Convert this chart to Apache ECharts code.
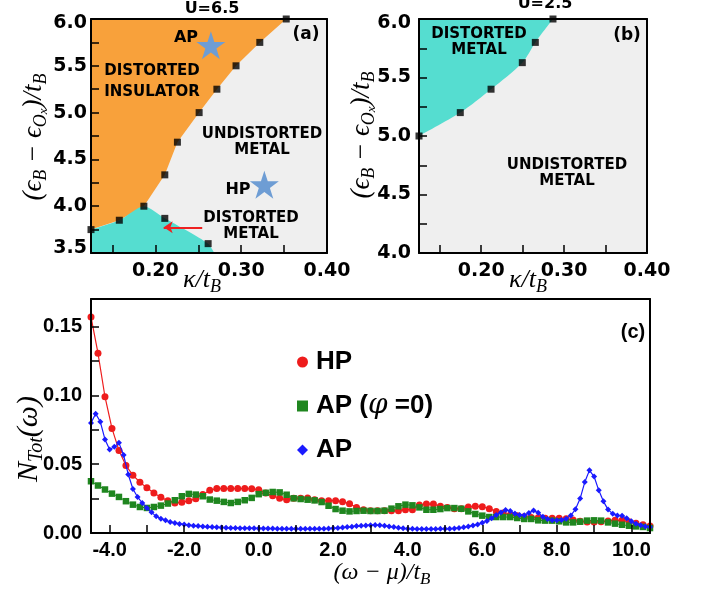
<!DOCTYPE html>
<html><head><meta charset="utf-8">
<script src="https://cdn.jsdelivr.net/npm/echarts@6/dist/echarts.min.js"></script>
<style>html,body{margin:0;padding:0;background:#fff}#c{width:704px;height:592px}</style>
</head><body><div id="c"></div>
<script>
// ---------- Panel (a): U = 6.5 ----------
const aInsulatorKappa = [0.125,0.158,0.1866,0.211,0.2257,0.251,0.2717,0.294,0.3217,0.3525];
const aInsulatorE     = [3.75,3.85,4.0,4.335,4.684,5.0,5.25,5.5,5.75,6.0];
const aMetalKappa = [0.125,0.158,0.1866,0.211,0.2615,0.2686];
const aMetalE     = [3.75,3.85,4.0,3.87,3.6,3.5];
const aPointKappa = [0.125,0.158,0.1866,0.211,0.211,0.2257,0.251,0.2717,0.294,0.3217,0.3525,0.2615];
const aPointE     = [3.75,3.85,4.0,3.87,4.335,4.684,5.0,5.25,5.5,5.75,6.0,3.6];
const starNames = ['AP','HP'];
const starKappa = [0.2647,0.327];
const starE     = [5.72,4.23];
const arrowKappa = [0.2546,0.2097];
const arrowE     = [3.775,3.775];
// ---------- Panel (b): U = 2.5 ----------
const bKappa = [0.125,0.1748,0.2119,0.2496,0.2653,0.2866];
const bE     = [5.0,5.2,5.4,5.627,5.8,6.0];
// ---------- Panel (c): total DOS ----------
const omegaCoarse = [-4.5,-4.3125,-4.125,-3.9375,-3.75,-3.5625,-3.375,-3.1875,-3.0,-2.8125,-2.625,-2.4375,-2.25,-2.0625,-1.875,-1.6875,-1.5,-1.3125,-1.125,-0.9375,-0.75,-0.5625,-0.375,-0.1875,
 0,0.1875,0.375,0.5625,0.75,0.9375,1.125,1.3125,1.5,1.6875,1.875,2.0625,2.25,2.4375,2.625,2.8125,3.0,3.1875,3.375,3.5625,3.75,3.9375,4.125,4.3125,4.5,4.6875,4.875,5.0625,5.25,5.4375,5.625,5.8125,
 6.0,6.1875,6.375,6.5625,6.75,6.9375,7.125,7.3125,7.5,7.6875,7.875,8.0625,8.25,8.4375,8.625,8.8125,9.0,9.1875,9.375,9.5625,9.75,9.9375,10.125,10.3125,10.5];
const dosHP = [0.157,0.1306,0.099,0.076,0.060,0.049,0.042,0.0369,0.0328,0.029,0.026,0.0235,0.0218,0.0223,0.0235,0.0248,0.028,0.031,0.0323,0.0323,0.0323,0.0323,0.0323,0.0321,
 0.0315,0.029,0.0271,0.0252,0.0242,0.0252,0.0252,0.0254,0.0242,0.0235,0.0235,0.0235,0.0227,0.0213,0.0186,0.0169,0.0162,0.0162,0.0162,0.0162,0.0162,0.0169,0.0169,0.0203,0.021,0.021,0.0194,0.0186,0.0177,0.0176,0.0189,0.0194,
 0.0191,0.0177,0.0157,0.0145,0.013,0.0125,0.0118,0.0113,0.011,0.0108,0.0108,0.0108,0.0104,0.0094,0.0085,0.008,0.008,0.0082,0.0088,0.0092,0.0092,0.0082,0.007,0.006,0.005];
const dosAP0 = [0.0376,0.0345,0.0316,0.0286,0.0262,0.0231,0.0206,0.0189,0.0182,0.0189,0.0199,0.0214,0.0238,0.0267,0.0284,0.0279,0.0267,0.0243,0.0235,0.0226,0.0218,0.0226,0.0238,0.0255,
 0.0282,0.0292,0.0298,0.0295,0.0278,0.0252,0.0247,0.0242,0.0237,0.0225,0.0198,0.0174,0.0162,0.0157,0.016,0.0162,0.016,0.016,0.0162,0.0177,0.0194,0.0206,0.0201,0.0186,0.0169,0.0169,0.0174,0.0181,0.0181,0.0176,0.0157,0.0138,
 0.0126,0.0116,0.0116,0.0116,0.0116,0.0109,0.0102,0.0102,0.0092,0.009,0.009,0.0085,0.0077,0.0077,0.0082,0.009,0.0092,0.009,0.0077,0.0068,0.006,0.0053,0.0048,0.0044,0.0036];
const omegaFine = [-4.5,-4.375,-4.25,-4.125,-4.0,-3.875,-3.75,-3.625,-3.5,-3.375,-3.25,-3.125,-3.0,-2.875,-2.75,-2.625,-2.5,-2.375,-2.25,-2.125,-2.0,-1.875,-1.75,-1.625,-1.5,-1.375,-1.25,-1.125,-1.0,-0.875,-0.75,-0.625,-0.5,-0.375,-0.25,-0.125,0,
 0.125,0.25,0.375,0.5,0.625,0.75,0.875,1.0,1.125,1.25,1.375,1.5,1.625,1.75,1.875,2.0,2.125,2.25,2.375,2.5,2.625,2.75,2.875,3.0,3.125,3.25,3.375,3.5,3.625,3.75,3.875,4.0,4.125,4.25,4.375,4.5,4.625,4.75,4.875,5.0,
 5.125,5.25,5.375,5.5,5.625,5.75,5.875,6.0,6.125,6.25,6.375,6.5,6.625,6.75,6.875,7.0,7.125,7.25,7.375,7.5,7.625,7.75,7.875,8.0,8.125,8.25,8.375,8.5,8.625,8.75,8.875,9.0,9.125,9.25,9.375,9.5,9.625,9.75,9.875,10.0,10.125,10.25,10.375,10.5];
const dosAP = [0.080,0.0867,0.0808,0.068,0.0607,0.0626,0.0655,0.0566,0.0425,0.032,0.0262,0.0218,0.0182,0.015,0.0121,0.0104,0.0092,0.008,0.0073,0.0066,0.0061,0.0057,0.0053,0.005,0.0048,0.0045,0.0043,0.0041,0.004,0.0038,0.0037,0.0036,0.0035,0.0035,0.0034,0.0034,0.0033,
 0.0033,0.0032,0.0032,0.0031,0.0031,0.0031,0.003,0.003,0.003,0.003,
 0.003,0.003,0.003,0.0031,0.0032,0.0034,0.0036,0.004,0.0043,0.0046,
 0.005,0.0052,0.0055,0.0057,0.0058,0.0056,0.0053,0.0048,0.0043,0.0038,
 0.0034,0.0031,0.003,0.0029,0.0029,0.0029,0.0029,0.0029,0.003,0.003,
 0.0031,0.0033,0.0037,0.0042,0.0048,0.0055,0.0062,0.0074,0.0087,0.0108,
 0.0131,0.0149,0.0168,0.016,0.0141,0.013,0.0129,0.0146,0.0163,0.0147,
 0.0118,0.0101,0.0092,0.0092,0.0094,0.0104,0.0128,0.0172,0.025,0.037,
 0.0455,0.041,0.031,0.023,0.017,0.014,0.0128,0.0125,0.0107,0.0086,
 0.0068,0.0056,0.0047,0.0044];
// axis ticks / labels
const kappaTicks = [0.15,0.20,0.25,0.30,0.35];
const kappaLabels = [0.20,0.30,0.40];
const aETicks = [3.75,4.0,4.25,4.5,4.75,5.0,5.25,5.5,5.75];
const aELabels = [3.5,4.0,4.5,5.0,5.5,6.0];
const bETicks = [4.25,4.5,4.75,5.0,5.25,5.5,5.75];
const bELabels = [4.0,4.5,5.0,5.5,6.0];
const omegaTicks = [-4,-3,-2,-1,0,1,2,3,4,5,6,7,8,9,10];
const omegaLabels = [-4,-2,0,2,4,6,8,10];
const dosTicks = [0.025,0.05,0.075,0.1,0.125,0.15];
const dosLabels = [0,0.05,0.10,0.15];

const zip = (xs, ys) => xs.map((x, i) => [x, ys[i]]);
const SANS = 'DejaVu Sans', LSANS = 'Liberation Sans', SERIF = 'Liberation Serif';
const frame = {show: true, onZero: false, lineStyle: {color: '#000', width: 2}};

function bottomAxis(gi, min, max, ticks, labels, dec, font, size, margin) {
  return {type: 'value', gridIndex: gi, min, max, position: 'bottom', z: 10,
    axisLine: frame, splitLine: {show: false},
    axisTick: {show: true, inside: true, length: 8, customValues: ticks, lineStyle: {color: '#000', width: 1.5}},
    axisLabel: {show: true, customValues: labels, margin, fontFamily: font, fontWeight: 'bold', fontSize: size, color: '#000',
      formatter: v => v.toFixed(dec)}};
}
function leftAxis(gi, min, max, ticks, labels, dec, font, size, margin, shiftEnds) {
  return {type: 'value', gridIndex: gi, min, max, position: 'left', z: 10,
    axisLine: frame, splitLine: {show: false},
    axisTick: {show: true, inside: true, length: 8, customValues: ticks, lineStyle: {color: '#000', width: 1.5}},
    axisLabel: {show: true, customValues: labels, margin, fontFamily: font, fontWeight: 'bold', fontSize: size, color: '#000',
      formatter: v => {
        const s = v.toFixed(dec);
        if (shiftEnds && v === max) return '{t|' + s + '}';
        if (shiftEnds === 2 && v === min) return '{b|' + s + '}';
        return s;
      },
      rich: {t: {fontFamily: font, fontWeight: 'bold', fontSize: size, color: '#000', padding: [8, 0, 0, 0]},
             b: {fontFamily: font, fontWeight: 'bold', fontSize: size, color: '#000', padding: [0, 0, 9, 0]}}}};
}
function frameAxis(gi, pos, min, max) {
  return {type: 'value', gridIndex: gi, position: pos, min, max, z: 10, axisLine: frame,
    axisTick: {show: false}, axisLabel: {show: false}, splitLine: {show: false}};
}

const mathRich = (m, s, ss) => ({
  m: {fontFamily: SERIF, fontStyle: 'italic', fontSize: m, color: '#333', lineHeight: m + 6},
  s: {fontFamily: SERIF, fontStyle: 'italic', fontSize: s, color: '#333', lineHeight: s, verticalAlign: 'bottom'},
  ss: {fontFamily: SERIF, fontStyle: 'italic', fontSize: ss, color: '#333', lineHeight: ss - 4, verticalAlign: 'bottom'}
});

function label(text, x, y, size, lh, font) {
  return {type: 'text', x, y, z: 100, style: {text, x: 0, y: 0, align: 'center', verticalAlign: 'middle',
    fontFamily: font || SANS, fontWeight: 'bold', fontSize: size, lineHeight: lh || size, fill: '#000'}};
}

const chart = echarts.init(document.getElementById('c'), null, {renderer: 'canvas'});
const option = {
  animation: false,
  backgroundColor: '#fff',
  grid: [
    {left: 91, top: 19, width: 236, height: 234, show: true, backgroundColor: '#efefef', borderWidth: 0},
    {left: 419, top: 19, width: 228, height: 234, show: true, backgroundColor: '#efefef', borderWidth: 0},
    {left: 91, top: 299, width: 559, height: 234, show: true, backgroundColor: '#fff', borderWidth: 0}
  ],
  xAxis: [
    bottomAxis(0, 0.125, 0.40, kappaTicks, kappaLabels, 2, SANS, 19, 9),
    frameAxis(0, 'top', 0.125, 0.40),
    bottomAxis(1, 0.125, 0.40, kappaTicks, kappaLabels, 2, SANS, 19, 9),
    frameAxis(1, 'top', 0.125, 0.40),
    bottomAxis(2, -4.5, 10.5, omegaTicks, omegaLabels, 1, LSANS, 20, 7),
    frameAxis(2, 'top', -4.5, 10.5)
  ],
  yAxis: [
    leftAxis(0, 3.5, 6.0, aETicks, aELabels, 1, SANS, 19, 4, 2),
    frameAxis(0, 'right', 3.5, 6.0),
    leftAxis(1, 4.0, 6.0, bETicks, bELabels, 1, SANS, 19, 8, 1),
    frameAxis(1, 'right', 4.0, 6.0),
    leftAxis(2, 0, 0.17, dosTicks, dosLabels, 2, LSANS, 20, 9, 0),
    frameAxis(2, 'right', 0, 0.17)
  ],
  legend: {
    data: [{name: 'HP', icon: 'circle'}, {name: 'AP0', icon: 'rect'}, {name: 'AP', icon: 'diamond'}],
    orient: 'vertical', left: 292, top: 344, itemWidth: 11, itemHeight: 11, itemGap: 17, selectedMode: false,
    formatter: n => n === 'AP0' ? '{b|AP (}{p|φ}{b| =0)}' : '{b|' + n + '}',
    textStyle: {padding: [0, 0, 0, 3], rich: {
      b: {fontFamily: LSANS, fontWeight: 'bold', fontSize: 26, color: '#000'},
      p: {fontFamily: 'DejaVu Serif', fontStyle: 'italic', fontSize: 28, color: '#000'}}}
  },
  series: [
    {type: 'line', xAxisIndex: 0, yAxisIndex: 0, data: zip(aInsulatorKappa, aInsulatorE), symbol: 'none',
      lineStyle: {width: 0}, areaStyle: {color: '#f8a13b', opacity: 1, origin: 'end'}, z: 1, silent: true},
    {type: 'line', xAxisIndex: 0, yAxisIndex: 0, data: zip(aMetalKappa, aMetalE), symbol: 'none', smooth: 0.25,
      lineStyle: {width: 0}, areaStyle: {color: '#55ddd0', opacity: 1, origin: 'start'}, z: 1, silent: true},
    {type: 'lines', coordinateSystem: 'cartesian2d', xAxisIndex: 0, yAxisIndex: 0, z: 3,
      data: [{coords: zip(arrowKappa, arrowE)}], symbol: ['none', 'arrow'], symbolSize: 9,
      lineStyle: {color: '#ee2222', width: 2, opacity: 1}},
    {type: 'scatter', xAxisIndex: 0, yAxisIndex: 0, data: zip(aPointKappa, aPointE), symbol: 'rect', symbolSize: 7,
      itemStyle: {color: '#000'}, z: 4},
    {type: 'scatter', xAxisIndex: 0, yAxisIndex: 0, z: 5,
      data: starNames.map((n, i) => ({name: n, value: [starKappa[i], starE[i]]})),
      symbol: 'path://M50,0 L61.2,34.5 L97.6,34.5 L68.2,55.9 L79.4,90.5 L50,69.1 L20.6,90.5 L31.8,55.9 L2.4,34.5 L38.8,34.5 Z',
      symbolSize: [29, 28], itemStyle: {color: '#6e9dd4', opacity: 1}},
    {type: 'line', xAxisIndex: 2, yAxisIndex: 2, data: zip(bKappa, bE), symbol: 'none', smooth: 0.3,
      lineStyle: {width: 0}, areaStyle: {color: '#55ddd0', opacity: 1, origin: 'end'}, z: 1, silent: true},
    {type: 'scatter', xAxisIndex: 2, yAxisIndex: 2, data: zip(bKappa, bE), symbol: 'rect', symbolSize: 7,
      itemStyle: {color: '#000'}, z: 4},
    {name: 'HP', type: 'line', xAxisIndex: 4, yAxisIndex: 4, data: zip(omegaCoarse, dosHP), symbol: 'circle', symbolSize: 7,
      showAllSymbol: true, lineStyle: {color: '#ee1c1c', width: 1.2}, itemStyle: {color: '#ee1c1c'}, z: 3},
    {name: 'AP0', type: 'line', xAxisIndex: 4, yAxisIndex: 4, data: zip(omegaCoarse, dosAP0), symbol: 'rect', symbolSize: 6.5,
      showAllSymbol: true, lineStyle: {color: '#1f861f', width: 1}, itemStyle: {color: '#1f861f'}, z: 3},
    {name: 'AP', type: 'line', xAxisIndex: 4, yAxisIndex: 4, data: zip(omegaFine, dosAP), symbol: 'diamond', symbolSize: 6,
      showAllSymbol: true, lineStyle: {color: '#1a1aff', width: 1.2}, itemStyle: {color: '#1a1aff'}, z: 4}
  ],
  graphic: [
    label('U=6.5', 212, 9, 16),
    label('U=2.5', 545, 4, 16),
    label('(a)', 306, 35, 17),
    label('(b)', 627, 36, 17),
    label('(c)', 633, 332, 20, 20, LSANS),
    label('AP', 186, 38, 16),
    label('HP', 238, 189.5, 16),
    label('DISTORTED\nINSULATOR', 152, 81.5, 15, 20.5),
    label('UNDISTORTED\nMETAL', 262, 142, 15, 16),
    label('DISTORTED\nMETAL', 251, 226, 15, 16.5),
    label('DISTORTED\nMETAL', 479, 42, 15, 16),
    label('UNDISTORTED\nMETAL', 567, 173, 15, 16.5),
    {type: 'text', x: 34, y: 137, rotation: Math.PI / 2, z: 100,
      style: {text: '{m|(ϵ}{s|B}{m| − ϵ}{s|O}{ss|x}{m|)/t}{s|B}', align: 'center', verticalAlign: 'middle', rich: mathRich(27, 18, 13)}},
    {type: 'text', x: 362, y: 135, rotation: Math.PI / 2, z: 100,
      style: {text: '{m|(ϵ}{s|B}{m| − ϵ}{s|O}{ss|x}{m|)/t}{s|B}', align: 'center', verticalAlign: 'middle', rich: mathRich(27, 18, 13)}},
    {type: 'text', x: 202, y: 280, z: 100,
      style: {text: '{m|κ/t}{s|B}', align: 'center', verticalAlign: 'middle', rich: mathRich(26, 18, 13)}},
    {type: 'text', x: 528, y: 280, z: 100,
      style: {text: '{m|κ/t}{s|B}', align: 'center', verticalAlign: 'middle', rich: mathRich(26, 18, 13)}},
    {type: 'text', x: 29, y: 439, rotation: Math.PI / 2, z: 100,
      style: {text: '{m|N}{s|Tot}{m|(ω)}', align: 'center', verticalAlign: 'middle', rich: mathRich(30, 20, 13)}},
    {type: 'text', x: 382, y: 573, z: 100,
      style: {text: '{m|(ω − μ)/t}{s|B}', align: 'center', verticalAlign: 'middle', rich: mathRich(24, 17, 13)}}
  ]
};
chart.setOption(option);
</script></body></html>
